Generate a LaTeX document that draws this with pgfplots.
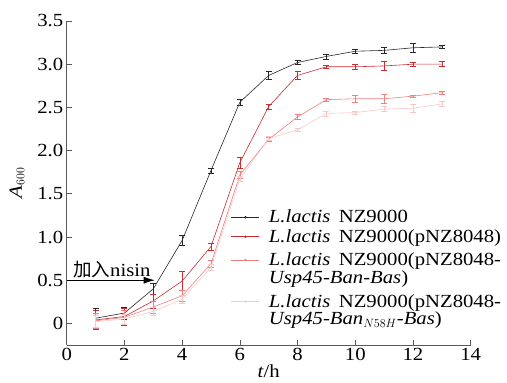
\documentclass[border=0pt]{standalone}
\usepackage{pgfplots}
\pgfplotsset{compat=1.18}
\usepackage{fontspec}
\setmainfont{Liberation Serif}[FakeStretch=1.12]
\newfontfamily\cjk{Noto Sans CJK SC}
\usetikzlibrary{arrows.meta}
\definecolor{c1}{RGB}{40,40,40}
\definecolor{c2}{RGB}{200,45,50}
\definecolor{c3}{RGB}{238,128,128}
\definecolor{c4}{RGB}{248,200,200}
\newcommand{\twol}[2]{\begin{tabular}[t]{@{}l@{}}#1\\#2\end{tabular}}
\begin{document}
\begin{tikzpicture}
\begin{axis}[
  name=ax,
  scale only axis, width=404pt, height=324pt,
  xmin=0, xmax=14, ymin=-0.25, ymax=3.5,
  axis x line*=bottom, axis y line*=left,
  axis line style={draw=black!65, line width=0.6pt},
  tick style={draw=black!65, line width=0.6pt},
  tick align=inside, major tick length=5pt,
  xtick={0,2,...,14},
  ytick={0,0.5,1,1.5,2,2.5,3,3.5},
  yticklabels={0,0.5,1.0,1.5,2.0,2.5,3.0,3.5},
  /pgf/number format/assume math mode=true,
  ticklabel style={font=\fontsize{18.5}{20}\selectfont},
  xlabel={\textit{t}/h}, ylabel={\textit{A}$_{600}$},
  label style={font=\fontsize{18.5}{20}\selectfont},
  xlabel style={yshift=3pt}, ylabel style={yshift=6pt},
  legend style={at={(0.4067,0.417)}, anchor=north west, draw=none, fill=none,
    inner sep=0pt, outer sep=0pt,
    font=\fontsize{18.5}{15.5}\selectfont, row sep=6.5pt, column sep=9pt,
    nodes={inner sep=0pt, text height=, text depth=},
    cells={anchor=base west}},
  legend image code/.code={%
    \draw[#1, line width=0.9pt] (0pt,5.5pt) -- (28pt,5.5pt);
    \fill[#1] (14pt,5.5pt) circle (0.9pt);},
  every axis plot/.append style={line width=0.6pt, mark=none},
  error bars/error mark options={rotate=90, mark size=3pt, line width=0.6pt},
]
\addplot[c1, error bars/.cd, y dir=both, y explicit] table[x=x,y=y,y error=e]{
x y e
1 0.06 0.12
2 0.12 0.07
3 0.40 0.06
4 0.96 0.06
5 1.77 0.03
6 2.56 0.03
7 2.87 0.05
8 3.02 0.02
9 3.09 0.03
10 3.15 0.02
11 3.16 0.03
12 3.19 0.05
13 3.20 0.02
};
\addlegendentry{\textit{L.lactis}\hspace{0.45em}NZ9000}
\addplot[c2, error bars/.cd, y dir=both, y explicit] table[x=x,y=y,y error=e]{
x y e
1 0.04 0.11
2 0.08 0.10
3 0.26 0.08
4 0.49 0.11
5 0.89 0.04
6 1.86 0.06
7 2.51 0.03
8 2.87 0.05
9 2.97 0.02
10 2.97 0.03
11 2.98 0.05
12 3.00 0.02
13 3.00 0.03
};
\addlegendentry{\textit{L.lactis}\hspace{0.45em}NZ9000(pNZ8048)}
\addplot[c3, error bars/.cd, y dir=both, y explicit] table[x=x,y=y,y error=e]{
x y e
1 0.03 0.09
2 0.07 0.08
3 0.19 0.07
4 0.32 0.06
5 0.69 0.04
6 1.72 0.04
7 2.13 0.02
8 2.39 0.03
9 2.59 0.02
10 2.60 0.04
11 2.60 0.05
12 2.63 0.01
13 2.67 0.02
};
\addlegendentry{\twol{\textit{L.lactis}\hspace{0.45em}NZ9000(pNZ8048-}{\textit{Usp45-Ban-Bas})}}
\addplot[c4, error bars/.cd, y dir=both, y explicit] table[x=x,y=y,y error=e]{
x y e
1 0.02 0.07
2 0.05 0.06
3 0.14 0.05
4 0.28 0.05
5 0.65 0.03
6 1.67 0.03
7 2.14 0.02
8 2.24 0.02
9 2.43 0.03
10 2.44 0.02
11 2.48 0.03
12 2.49 0.05
13 2.54 0.03
};
\addlegendentry{\twol{\textit{L.lactis}\hspace{0.45em}NZ9000(pNZ8048-}{\textit{Usp45-Ban$_{N58H}$-Bas})}}
\draw[-{Latex[length=11pt,width=7pt]}, line width=0.6pt] (axis cs:0,0.5) -- (axis cs:3.05,0.5);
\node[anchor=base west, font=\fontsize{18.5}{20}\selectfont, inner sep=0pt] at (axis cs:0.22,0.54) {{\cjk 加入}nisin};
\end{axis}
\pgfresetboundingbox
\path[use as bounding box] (ax.south west) ++(-66.7pt,-38pt) rectangle ++(507pt,383pt);
\end{tikzpicture}
\end{document}
